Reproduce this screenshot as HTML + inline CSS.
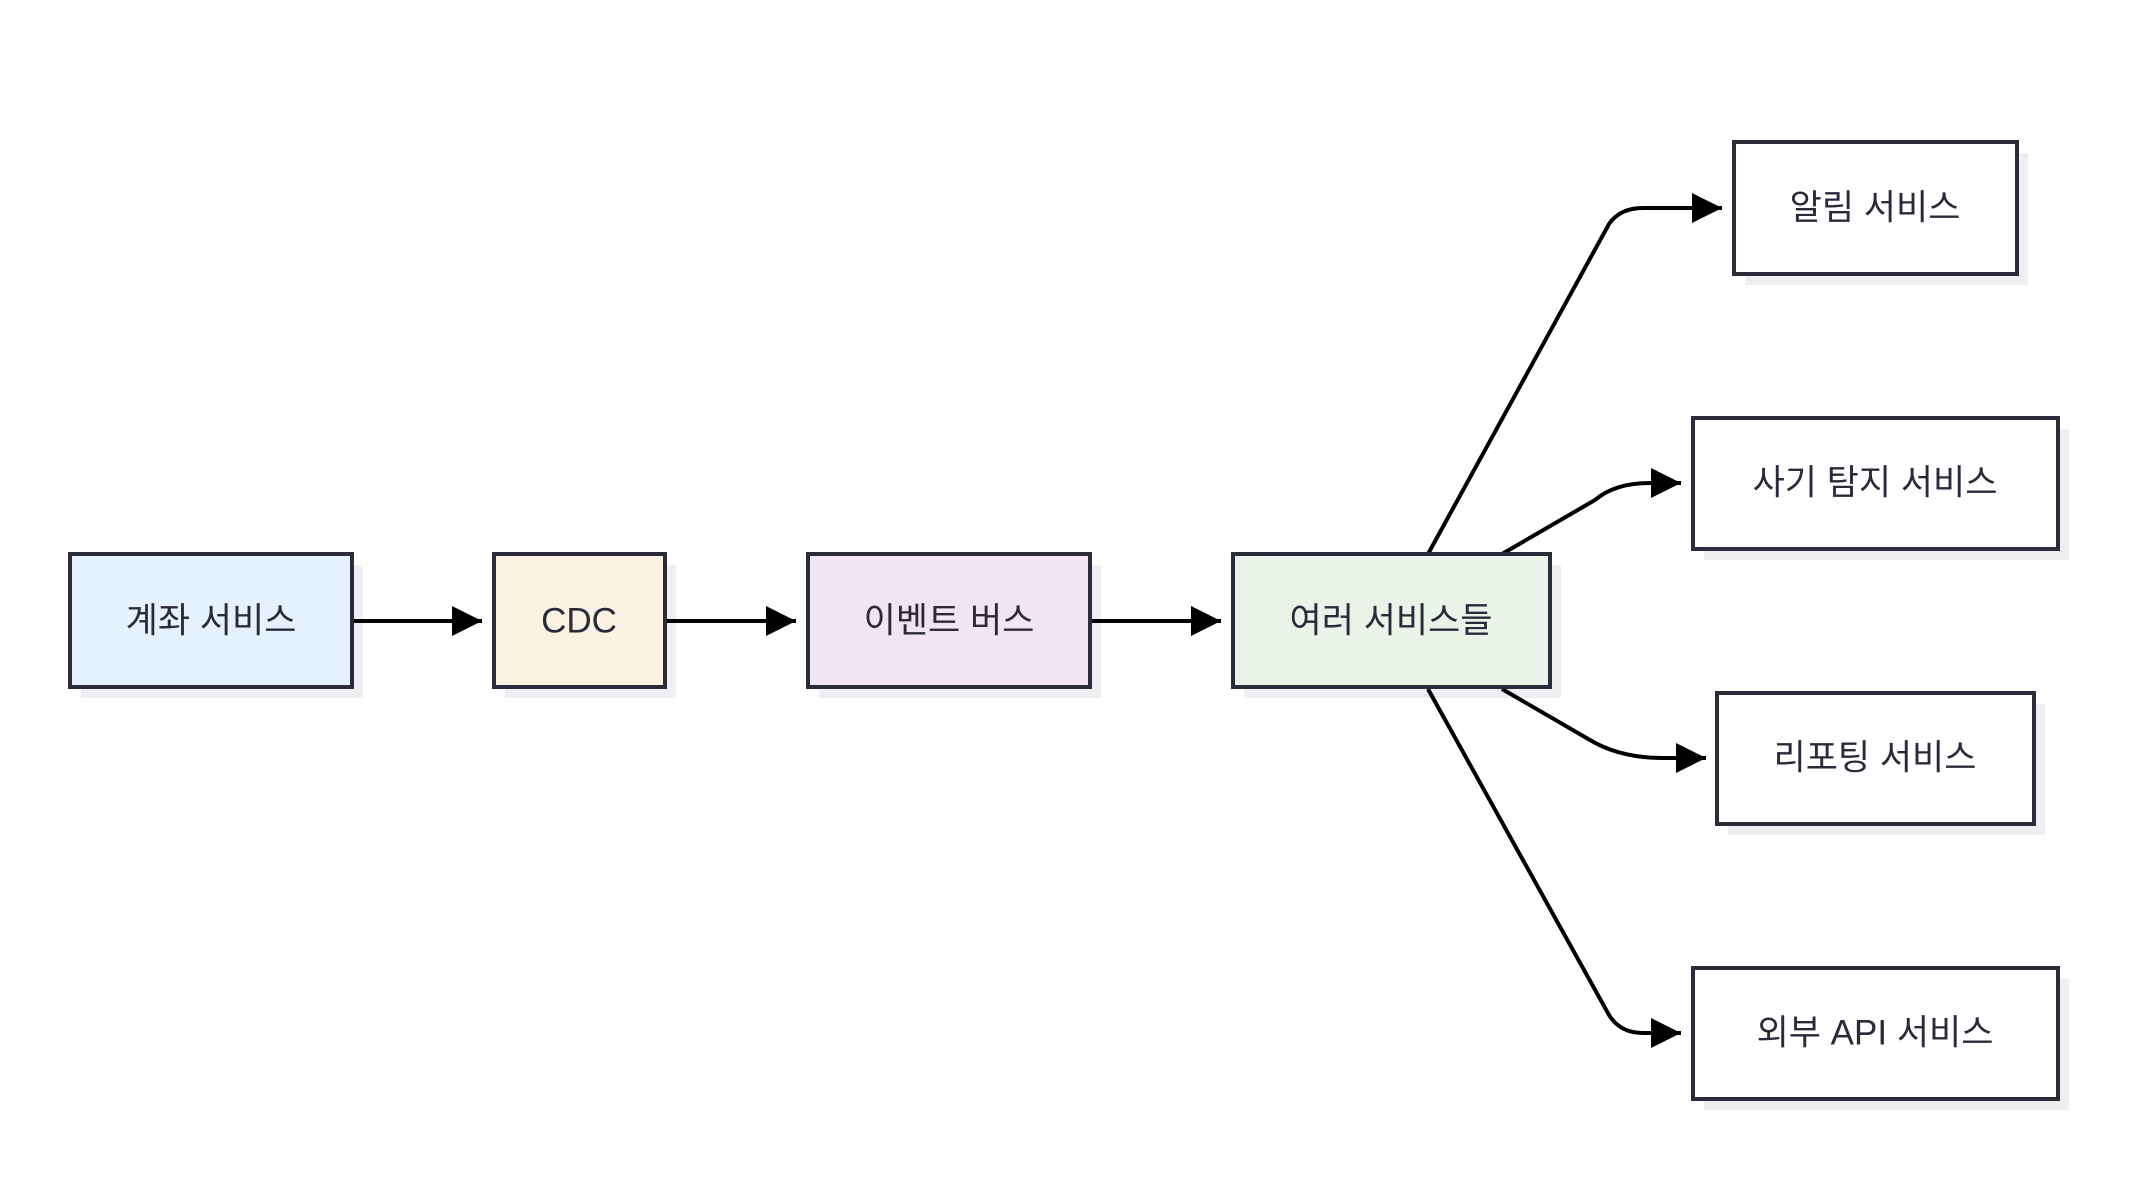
<!DOCTYPE html>
<html><head><meta charset="utf-8"><style>
html,body{margin:0;padding:0;background:#fff;}
</style></head><body>
<svg width="2136" height="1184" viewBox="0 0 2136 1184" xmlns="http://www.w3.org/2000/svg" font-family="'Liberation Sans','Noto Sans CJK KR',sans-serif">
<defs>
<marker id="a" viewBox="0 0 10 10" refX="10" refY="5" markerWidth="30" markerHeight="30" markerUnits="userSpaceOnUse" orient="auto">
<path d="M0,0 L10,5 L0,10 z" fill="#000"/></marker>
</defs>
<g fill="#efeff1">
<rect x="81" y="565" width="282" height="133"/>
<rect x="505" y="565" width="171" height="133"/>
<rect x="819" y="565" width="282" height="133"/>
<rect x="1244" y="565" width="317" height="133"/>
<rect x="1745" y="153" width="283" height="132"/>
<rect x="1704" y="429" width="365" height="131"/>
<rect x="1728" y="704" width="317" height="131"/>
<rect x="1704" y="979" width="365" height="131"/>
</g>
<g stroke="#000" stroke-width="4" fill="none" marker-end="url(#a)">
<line x1="352" y1="621" x2="482" y2="621"/>
<line x1="665" y1="621" x2="796" y2="621"/>
<line x1="1090" y1="621" x2="1221" y2="621"/>
<path d="M1428,554 L1609,224 Q1620,208 1643,208 L1722,208"/>
<path d="M1502,554 L1595,500 Q1615,483 1650,483 L1681,483"/>
<path d="M1502,689 L1590,740 Q1620,758 1663,758 L1706,758"/>
<path d="M1428,689 L1609,1015 Q1620,1033 1643,1033 L1681,1033"/>
</g>
<g stroke="#2b2b3b" stroke-width="4">
<rect x="70" y="554" width="282" height="133" fill="#e5f1fb"/>
<rect x="494" y="554" width="171" height="133" fill="#fbf2e2"/>
<rect x="808" y="554" width="282" height="133" fill="#f0e5f3"/>
<rect x="1233" y="554" width="317" height="133" fill="#e9f3e8"/>
<rect x="1734" y="142" width="283" height="132" fill="#fff"/>
<rect x="1693" y="418" width="365" height="131" fill="#fff"/>
<rect x="1717" y="693" width="317" height="131" fill="#fff"/>
<rect x="1693" y="968" width="365" height="131" fill="#fff"/>
</g>
<g fill="#2a2a3a" font-size="35" text-anchor="middle" dominant-baseline="central">
<text x="211" y="621">계좌 서비스</text>
<text x="579" y="621">CDC</text>
<text x="949" y="621">이벤트 버스</text>
<text x="1391" y="621">여러 서비스들</text>
<text x="1875" y="208">알림 서비스</text>
<text x="1875" y="483">사기 탐지 서비스</text>
<text x="1875" y="758">리포팅 서비스</text>
<text x="1875" y="1033">외부 API 서비스</text>
</g>
</svg>
</body></html>
